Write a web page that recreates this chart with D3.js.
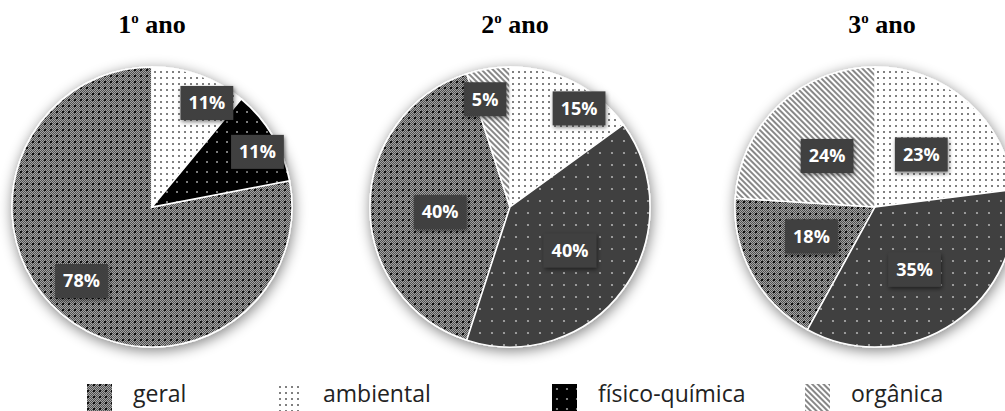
<!DOCTYPE html>
<html>
<head>
<meta charset="utf-8">
<script src="https://cdn.jsdelivr.net/npm/d3@7"></script>
<style>
  body { margin: 0; background: #fff; }
  svg { display: block; }
</style>
</head>
<body>
<div id="chart"></div>
<script>
// data
var categories = ["geral", "ambiental", "físico-química", "orgânica"];
var yearTitles = ["1", "2", "3"];
var ano1 = [78, 11, 11, 0];
var ano2 = [40, 15, 40, 5];
var ano3 = [18, 23, 35, 24];
// slices go clockwise from 12 o'clock in this order
var sliceOrder = ["ambiental", "físico-química", "geral", "orgânica"];

// layout / style
var width = 1005, height = 411;
var radius = 140, cy = 207;
var centers = [152, 510, 875];
var titleX = [152, 515, 882];
// label distance from centre (fraction of radius) and small angle nudge (deg)
var labelR = [
  { "ambiental": [0.84, 8], "físico-química": [0.85, 3], "geral": [0.73, 4], "orgânica": [0.5, 0] },
  { "ambiental": [0.86, 8], "físico-química": [0.53, 0], "geral": [0.5, -4], "orgânica": [0.79, -4] },
  { "ambiental": [0.5, 0], "físico-química": [0.53, 2], "geral": [0.5, 4], "orgânica": [0.5, 0] }
];
var legendX = [87, 277, 552, 805];

var svg = d3.select("#chart").append("svg")
    .attr("width", width)
    .attr("height", height);

var defs = svg.append("defs");

// pie shadow
var f = defs.append("filter").attr("id", "pieShadow")
    .attr("x", "-20%").attr("y", "-20%").attr("width", "140%").attr("height", "140%");
f.append("feGaussianBlur").attr("in", "SourceAlpha").attr("stdDeviation", 7).attr("result", "b");
f.append("feOffset").attr("in", "b").attr("dx", 1).attr("dy", 3).attr("result", "o");
f.append("feComponentTransfer").attr("in", "o").attr("result", "s")
  .append("feFuncA").attr("type", "linear").attr("slope", 0.5);
var fm = f.append("feMerge");
fm.append("feMergeNode").attr("in", "s");
fm.append("feMergeNode").attr("in", "SourceGraphic");

// label box shadow
var f2 = defs.append("filter").attr("id", "boxShadow")
    .attr("x", "-30%").attr("y", "-30%").attr("width", "160%").attr("height", "160%");
f2.append("feGaussianBlur").attr("in", "SourceAlpha").attr("stdDeviation", 2).attr("result", "b");
f2.append("feOffset").attr("in", "b").attr("dx", 1).attr("dy", 2).attr("result", "o");
f2.append("feComponentTransfer").attr("in", "o").attr("result", "s")
  .append("feFuncA").attr("type", "linear").attr("slope", 0.5);
var fm2 = f2.append("feMerge");
fm2.append("feMergeNode").attr("in", "s");
fm2.append("feMergeNode").attr("in", "SourceGraphic");

// patterns
var pat = function(id, w, h) {
  return defs.append("pattern").attr("id", id)
    .attr("patternUnits", "userSpaceOnUse")
    .attr("width", w).attr("height", h);
};

// geral: fine checker weave with dark dots
var pg = pat("p-geral", 6, 6);
pg.append("rect").attr("width", 6).attr("height", 6).attr("fill", "#a4a4a4");
for (var i = 0; i < 6; i++) {
  for (var j = 0; j < 6; j++) {
    if ((i + j) % 2 == 0) {
      pg.append("rect").attr("x", i).attr("y", j).attr("width", 1).attr("height", 1).attr("fill", "#505050");
    }
  }
}
pg.append("rect").attr("x", 0).attr("y", 0).attr("width", 2).attr("height", 2).attr("fill", "#111");

// ambiental: white with small grey dots
var pa = pat("p-ambiental", 6, 6);
pa.append("rect").attr("width", 6).attr("height", 6).attr("fill", "#fff");
pa.append("circle").attr("cx", 3).attr("cy", 3).attr("r", 1).attr("fill", "#555");

// fisico-quimica: dark with light dots
var pf = pat("p-fq", 12, 12);
pf.append("rect").attr("width", 12).attr("height", 12).attr("fill", "#404040");
pf.append("circle").attr("cx", 6).attr("cy", 6).attr("r", 1.1).attr("fill", "#b0b0b0");

var pfb = pat("p-fq-black", 10, 10);
pfb.append("rect").attr("width", 10).attr("height", 10).attr("fill", "#000");
pfb.append("circle").attr("cx", 5).attr("cy", 5).attr("r", 1.1).attr("fill", "#9a9a9a");

// organica: diagonal stripes
var po = pat("p-organica", 4, 4).attr("patternTransform", "rotate(-45)");
po.append("rect").attr("width", 4).attr("height", 4).attr("fill", "#fff");
po.append("rect").attr("x", 0).attr("y", 0).attr("width", 2).attr("height", 4).attr("fill", "#888");

var fillFor = function(cat, chart) {
  if (cat == "geral") return "url(#p-geral)";
  if (cat == "ambiental") return "url(#p-ambiental)";
  if (cat == "orgânica") return "url(#p-organica)";
  return chart === 0 || chart === "legend" ? "url(#p-fq-black)" : "url(#p-fq)";
};

var pie = d3.pie()
    .value(function(d) { return d.value; })
    .sort(function(a, b) { return sliceOrder.indexOf(a.cat) - sliceOrder.indexOf(b.cat); });

var arc = d3.arc().innerRadius(0).outerRadius(radius);

[ano1, ano2, ano3].forEach(function(values, k) {
  var data = categories.map(function(c, i) { return { cat: c, value: values[i] }; });
  var arcs = pie(data);

  // title
  var t = svg.append("text")
      .attr("x", titleX[k])
      .attr("y", 33)
      .attr("text-anchor", "middle")
      .style("font-family", "'Liberation Serif', 'Times New Roman', serif")
      .style("font-weight", "bold")
      .style("font-size", "26px")
      .attr("fill", "#000");
  t.append("tspan").text(yearTitles[k]);
  t.append("tspan").attr("dy", -10).style("font-size", "15px").text("o");
  t.append("tspan").attr("dy", 10).text(" ano");

  var g = svg.append("g")
      .attr("transform", "translate(" + centers[k] + "," + cy + ")");

  g.append("g")
      .attr("filter", "url(#pieShadow)")
    .selectAll("path")
    .data(arcs.filter(function(d) { return d.value > 0; }))
    .enter().append("path")
      .attr("d", arc)
      .attr("fill", function(d) { return fillFor(d.data.cat, k); })
      .attr("stroke", "#fff")
      .attr("stroke-width", 1.5);

  // labels
  var lab = g.selectAll(".lab")
      .data(arcs.filter(function(d) { return d.value > 0; }))
      .enter().append("g")
      .attr("class", "lab")
      .attr("transform", function(d) {
        var p = labelR[k][d.data.cat];
        var r = radius * p[0];
        var a = (d.startAngle + d.endAngle) / 2 + p[1] * Math.PI / 180;
        return "translate(" + (r * Math.sin(a)) + "," + (-r * Math.cos(a)) + ")";
      });

  lab.each(function(d) {
    var el = d3.select(this);
    var box = el.append("rect").attr("fill", "#3f3f3f").attr("filter", "url(#boxShadow)");
    var tx = el.append("text")
        .attr("text-anchor", "middle")
        .attr("dy", "0.36em")
        .style("font-family", "'Open Sans', sans-serif")
        .style("font-weight", "bold")
        .style("font-size", "18px")
        .attr("fill", "#fff")
        .text(d.data.value + "%");
    var w = tx.node().getComputedTextLength() + 16;
    box.attr("x", -w / 2).attr("y", -17).attr("width", w).attr("height", 34);
  });
});

// legend
var leg = svg.selectAll(".legend")
    .data(categories)
    .enter().append("g")
    .attr("class", "legend")
    .attr("transform", function(d, i) { return "translate(" + legendX[i] + ",384)"; });

leg.append("rect")
    .attr("width", 25)
    .attr("height", 28)
    .attr("fill", function(d) { return fillFor(d, "legend"); });

leg.append("text")
    .attr("x", 46)
    .attr("y", 18)
    .style("font-family", "'Open Sans', sans-serif")
    .style("font-size", "23px")
    .attr("fill", "#222")
    .text(function(d) { return d; });
</script>
</body>
</html>
